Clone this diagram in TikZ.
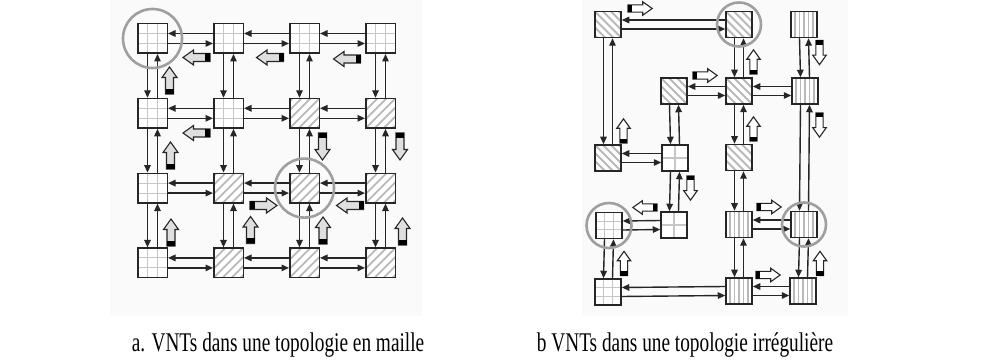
\documentclass[tikz,border=0pt]{standalone}
\usepackage{graphicx}
\usepackage{fontspec}
\setmainfont{Liberation Serif}
\usetikzlibrary{arrows.meta}

\begin{document}
\begin{tikzpicture}[
			x=1pt, y=-1pt,
			% Node styles
			meshCell/.style={rectangle, draw=black!85, line width=1.5pt, fill=white, inner sep=0pt, minimum size=29.5pt},
			irrCell/.style={meshCell, minimum size=26pt},
			% Fill patterns of the cells
			gridFill/.style={path picture={
					\foreach \s in {#1} {
						\draw[gray!45, line width=1.1pt] ([xshift=\s*1pt]path picture bounding box.north) -- ([xshift=\s*1pt]path picture bounding box.south);
						\draw[gray!45, line width=1.1pt] ([yshift=\s*1pt]path picture bounding box.west) -- ([yshift=\s*1pt]path picture bounding box.east);
					}}},
			hatchUp/.style={path picture={
					\foreach \s in {-36,-27,...,36}
						\draw[gray!55, line width=1.8pt] ([shift={({(\s-25)*1pt},-25pt)}]path picture bounding box.center) -- ++(50pt,50pt);
					}},
			hatchDown/.style={path picture={
					\foreach \s in {-32,-24,...,32}
						\draw[gray!55, line width=1.8pt] ([shift={({(\s-25)*1pt},25pt)}]path picture bounding box.center) -- ++(50pt,-50pt);
					}},
			stripeFill/.style={path picture={
					\foreach \s in {-9,-4.5,...,9}
						\draw[gray!55, line width=1.2pt] ([xshift=\s*1pt]path picture bounding box.north) -- ([xshift=\s*1pt]path picture bounding box.south);
					}},
			% Line styles
			vntLink/.style={draw=black!85, line width=1.4pt, -{Triangle[length=7.5pt, width=6.5pt]}},
			ringLine/.style={draw=gray!75, line width=2.6pt},
			captionText/.style={anchor=base, font={\fontsize{27}{32}\selectfont}},
			% Block arrows (pointing along +x, black tail)
			meshArrow/.style={fill=gray!25},
			irrArrow/.style={fill=white, scale=0.9},
			fatArrow/.pic={
				\draw[pic actions, draw=black!85, line width=1.1pt] (-13.5,-4) -- (3,-4) -- (3,-7.5) -- (13.5,0) -- (3,7.5) -- (3,4) -- (-13.5,4) -- cycle;
				\fill[black] (-13.5,-4) rectangle (-8.5,4);
			}
			]
			
			\useasboundingbox (0,0) rectangle (991,363);
			
			% =========================================================
			% 1. VNTs IN A MESH TOPOLOGY (left)
			% =========================================================
			
			\begin{scope}
				\fill[gray!4] (110,0) rectangle (422,316);
				
				% Cells, row by row
				\node[meshCell, gridFill={-5,5}] (M11) at (152.5,38.5) {};
				\node[meshCell, gridFill={-5,5}] (M21) at (228.5,38.5) {};
				\node[meshCell, gridFill={-5,5}] (M31) at (304.5,38.5) {};
				\node[meshCell, gridFill={-5,5}] (M41) at (380.5,38.5) {};
				
				\node[meshCell, gridFill={-5,5}] (M12) at (152.5,113.3) {};
				\node[meshCell, gridFill={-5,5}] (M22) at (228.5,113.3) {};
				\node[meshCell, hatchUp] (M32) at (304.5,113.3) {};
				\node[meshCell, hatchUp] (M42) at (380.5,113.3) {};
				
				\node[meshCell, gridFill={-5,5}] (M13) at (152.5,188.1) {};
				\node[meshCell, hatchUp] (M23) at (228.5,188.1) {};
				\node[meshCell, hatchUp] (M33) at (304.5,188.1) {};
				\node[meshCell, hatchUp] (M43) at (380.5,188.1) {};
				
				\node[meshCell, gridFill={-5,5}] (M14) at (152.5,262.9) {};
				\node[meshCell, hatchUp] (M24) at (228.5,262.9) {};
				\node[meshCell, hatchUp] (M34) at (304.5,262.9) {};
				\node[meshCell, hatchUp] (M44) at (380.5,262.9) {};
				
				% Horizontal links: upper one to the left, lower one to the right
				\foreach \a/\b in {M11/M21, M21/M31, M31/M41, M12/M22, M22/M32, M32/M42,
					M13/M23, M23/M33, M33/M43, M14/M24, M24/M34, M34/M44} {
					\draw[vntLink] ([yshift=5pt]\b.west) -- ([yshift=5pt]\a.east);
					\draw[vntLink] ([yshift=-5pt]\a.east) -- ([yshift=-5pt]\b.west);
				}
				
				% Vertical links: left one down, right one up
				\foreach \a/\b in {M11/M12, M12/M13, M13/M14, M21/M22, M22/M23, M23/M24,
					M31/M32, M32/M33, M33/M34, M41/M42, M42/M43, M43/M44} {
					\draw[vntLink] ([xshift=-5pt]\a.south) -- ([xshift=-5pt]\b.north);
					\draw[vntLink] ([xshift=5pt]\b.north) -- ([xshift=5pt]\a.south);
				}
				
				% Highlighted cells
				\draw[ringLine] (M11.center) circle (29.5pt);
				\draw[ringLine] (M33.center) circle (29.5pt);
				
				% Block arrows
				\pic[meshArrow, rotate=180] at (196.5,57.5) {fatArrow};
				\pic[meshArrow, rotate=180] at (270,57.5) {fatArrow};
				\pic[meshArrow, rotate=180] at (347,59) {fatArrow};
				\pic[meshArrow, rotate=90] at (169.5,80.5) {fatArrow};
				\pic[meshArrow, rotate=180] at (196.5,133) {fatArrow};
				\pic[meshArrow, rotate=90] at (170.5,155.5) {fatArrow};
				\pic[meshArrow, rotate=270] at (322.5,146.5) {fatArrow};
				\pic[meshArrow, rotate=270] at (400,146.5) {fatArrow};
				\pic[meshArrow] at (263.5,205.5) {fatArrow};
				\pic[meshArrow, rotate=180] at (350,205.5) {fatArrow};
				\pic[meshArrow, rotate=90] at (171,232.5) {fatArrow};
				\pic[meshArrow, rotate=90] at (250.5,230) {fatArrow};
				\pic[meshArrow, rotate=90] at (323,230.5) {fatArrow};
				\pic[meshArrow, rotate=90] at (402.5,231.5) {fatArrow};
				
				\node[captionText] (capMesh) at (278,352) {\scalebox{0.715}[1]{a. VNTs dans une topologie en maille}};
			\end{scope}
			
			% =========================================================
			% 2. VNTs IN AN IRREGULAR TOPOLOGY (right)
			% =========================================================
			
			\begin{scope}
				\fill[gray!4] (582,0) rectangle (848,316);
				
				% Cells
				\node[irrCell, hatchDown] (Ra1) at (608,24.5) {};
				\node[irrCell, hatchDown] (Rc1) at (739,24.5) {};
				\node[irrCell, stripeFill] (Rd1) at (804,24.5) {};
				
				\node[irrCell, hatchDown] (Rb2) at (674,91) {};
				\node[irrCell, hatchDown] (Rc2) at (739,91) {};
				\node[irrCell, stripeFill] (Rd2) at (805,91) {};
				
				\node[irrCell, hatchDown] (Ra3) at (608,158) {};
				\node[irrCell, gridFill={0}] (Rb3) at (675,158) {};
				\node[irrCell, hatchDown] (Rc3) at (739,157.5) {};
				
				\node[irrCell, gridFill={-4.3,4.3}] (Ra4) at (609,225.5) {};
				\node[irrCell, gridFill={0}] (Rb4) at (674,225) {};
				\node[irrCell, stripeFill] (Rc4) at (739,224.5) {};
				\node[irrCell, stripeFill] (Rd4) at (804,224.5) {};
				
				\node[irrCell, gridFill={-4.3,4.3}] (Ra5) at (608,292) {};
				\node[irrCell, stripeFill] (Rc5) at (739,291) {};
				\node[irrCell, stripeFill] (Rd5) at (803,291) {};
				
				% Horizontal links
				\foreach \a/\b in {Ra1/Rc1, Rb2/Rc2, Rc2/Rd2, Ra3/Rb3, Ra4/Rb4, Rc4/Rd4, Ra5/Rc5, Rc5/Rd5} {
					\draw[vntLink] ([yshift=4.5pt]\b.west) -- ([yshift=4.5pt]\a.east);
					\draw[vntLink] ([yshift=-4.5pt]\a.east) -- ([yshift=-4.5pt]\b.west);
				}
				
				% Vertical links
				\foreach \a/\b in {Ra1/Ra3, Rc1/Rc2, Rd1/Rd2, Rb2/Rb3, Rc2/Rc3, Rd2/Rd4,
					Rc3/Rc4, Rb3/Rb4, Ra4/Ra5, Rc4/Rc5, Rd4/Rd5} {
					\draw[vntLink] ([xshift=-4.5pt]\a.south) -- ([xshift=-4.5pt]\b.north);
					\draw[vntLink] ([xshift=4.5pt]\b.north) -- ([xshift=4.5pt]\a.south);
				}
				
				% Highlighted cells
				\draw[ringLine] (Rc1.center) circle (22pt);
				\draw[ringLine] (Ra4.center) circle (22.5pt);
				\draw[ringLine] (Rd4.center) circle (22pt);
				
				% Block arrows
				\pic[irrArrow] at (640,8.5) {fatArrow};
				\pic[irrArrow] at (705,75.5) {fatArrow};
				\pic[irrArrow, rotate=90] at (623.5,131) {fatArrow};
				\pic[irrArrow, rotate=90] at (753.5,62) {fatArrow};
				\pic[irrArrow, rotate=270] at (819.5,52.5) {fatArrow};
				\pic[irrArrow, rotate=90] at (753.5,129) {fatArrow};
				\pic[irrArrow, rotate=270] at (819.5,125) {fatArrow};
				\pic[irrArrow] at (769,207) {fatArrow};
				\pic[irrArrow, rotate=90] at (820,263.5) {fatArrow};
				\pic[irrArrow] at (768,275) {fatArrow};
				\pic[irrArrow, rotate=270] at (690.5,188) {fatArrow};
				\pic[irrArrow, rotate=180] at (645,207.5) {fatArrow};
				\pic[irrArrow, rotate=90] at (624,263.5) {fatArrow};
				
				\node[captionText] (capIrr) at (685,352) {\scalebox{0.715}[1]{b VNTs dans une topologie irrégulière}};
			\end{scope}
			
		\end{tikzpicture}
\end{document}
